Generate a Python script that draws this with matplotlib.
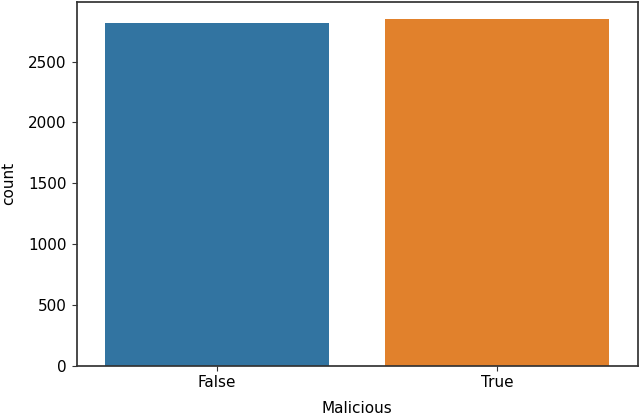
import matplotlib
matplotlib.use('Agg')
import matplotlib.pyplot as plt

# counts per class
categories = ['False', 'True']
counts = [2820, 2852]
colors = ['#3274a1', '#e1812c']

fig = plt.figure(figsize=(6.4, 4.16), dpi=100)
ax = fig.add_axes([76.5 / 640, 50.5 / 416, 561 / 640, 364 / 416])

x = list(range(len(categories)))
ax.bar(x, counts, width=0.8, color=colors)
ax.set_xlim(-0.5, 1.5)
ax.set_ylim(0, max(counts) * 1.05)
ax.set_xticks(x)
ax.set_xticklabels(categories)
ax.set_yticks([0, 500, 1000, 1500, 2000, 2500])
ax.tick_params(labelsize=11, color='#333333')
ax.set_xlabel('Malicious', fontsize=11, labelpad=8)
ax.set_ylabel('count', fontsize=11, labelpad=9)
for side in ['left', 'right', 'top', 'bottom']:
    ax.spines[side].set_color('#333333')
    ax.spines[side].set_linewidth(1.25)

fig.savefig('out.png', dpi=100)
